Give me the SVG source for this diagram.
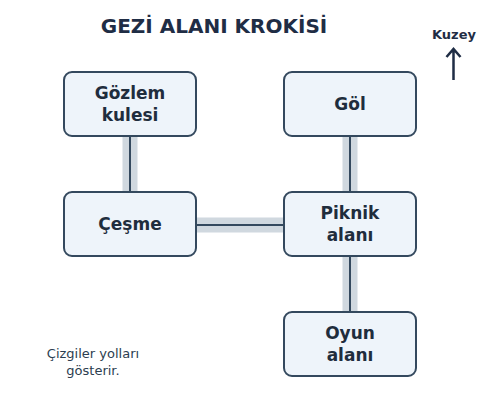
<svg xmlns="http://www.w3.org/2000/svg" width="500" height="400" viewBox="0 0 500 400">
<style>
.node rect{fill:#eef4fa;stroke:#34495e;stroke-width:2}
.lbl{font-family:"DejaVu Sans",sans-serif;font-weight:bold;font-size:17px;fill:#1f2d3d;text-anchor:middle}
.road{stroke:#d0d8df;stroke-width:15;fill:none}
.line{stroke:#34495e;stroke-width:2;fill:none}
</style>
<rect width="500" height="400" fill="#ffffff"/>
<text x="214" y="33" font-family="DejaVu Sans, sans-serif" font-weight="bold" font-size="20" fill="#1f2d45" text-anchor="middle">GEZİ ALANI KROKİSİ</text>
<g id="connectors">
<path class="road" d="M130 136V192M196 225H284M350 136V192M350 256V312"/>
<path class="line" d="M130 136V192M196 225H284M350 136V192M350 256V312"/>
</g>
<g id="gozlem" class="node"><rect x="64" y="72" width="132" height="64" rx="8"/><text class="lbl" x="130" y="99">Gözlem</text><text class="lbl" x="130" y="121">kulesi</text></g>
<g id="gol" class="node"><rect x="284" y="72" width="132" height="64" rx="8"/><text class="lbl" x="350" y="110">Göl</text></g>
<g id="cesme" class="node"><rect x="64" y="192" width="132" height="64" rx="8"/><text class="lbl" x="130" y="230">Çeşme</text></g>
<g id="piknik" class="node"><rect x="284" y="192" width="132" height="64" rx="8"/><text class="lbl" x="350" y="219">Piknik</text><text class="lbl" x="350" y="241">alanı</text></g>
<g id="oyun" class="node"><rect x="284" y="312" width="132" height="64" rx="8"/><text class="lbl" x="350" y="339">Oyun</text><text class="lbl" x="350" y="361">alanı</text></g>
<g id="kuzey">
<text x="454" y="39" font-family="DejaVu Sans, sans-serif" font-weight="bold" font-size="13" fill="#1f2d45" text-anchor="middle">Kuzey</text>
<path d="M453.5 80V49M446.5 57L453.5 49L460.5 57" stroke="#1f2d45" stroke-width="2.5" fill="none"/>
</g>
<text font-family="DejaVu Sans, sans-serif" font-size="13" fill="#2c3e50" text-anchor="middle"><tspan x="93" y="358">Çizgiler yolları</tspan><tspan x="93" y="375">gösterir.</tspan></text>
</svg>
